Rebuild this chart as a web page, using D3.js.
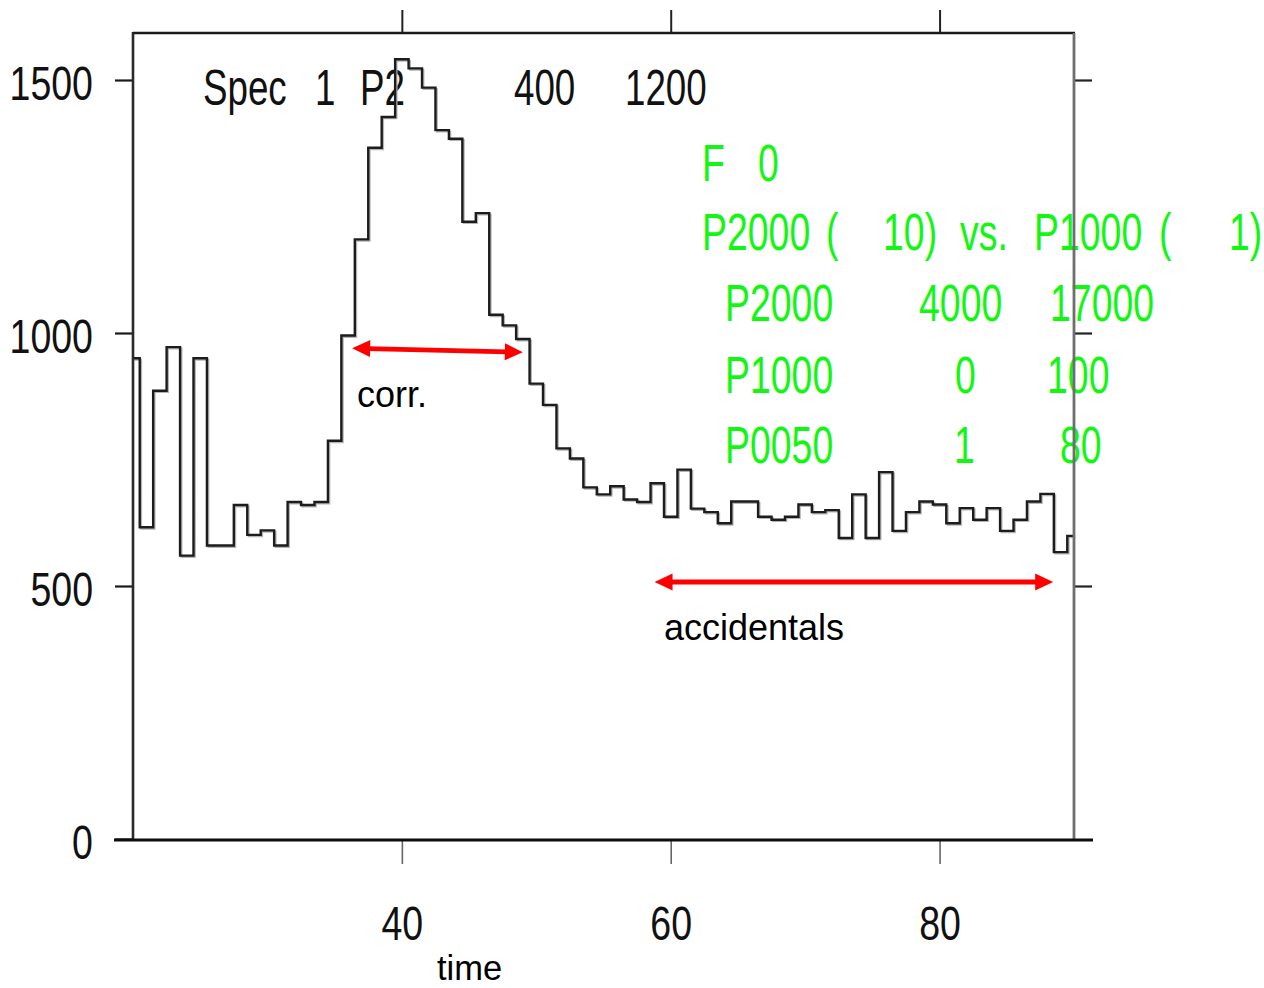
<!DOCTYPE html>
<html>
<head>
<meta charset="utf-8">
<script src="https://cdn.jsdelivr.net/npm/d3@7/dist/d3.min.js"></script>
<style>
  html, body { margin: 0; padding: 0; background: #fff; }
  svg { display: block; }
</style>
</head>
<body>
<svg id="chart" width="1264" height="988"></svg>
<script>
// ---- data -------------------------------------------------------------
// time-spectrum bin centres (one channel per unit of time)
const binCenters = [
  20, 21, 22, 23, 24, 25, 26, 27, 28, 29,
  30, 31, 32, 33, 34, 35, 36, 37, 38, 39,
  40, 41, 42, 43, 44, 45, 46, 47, 48, 49,
  50, 51, 52, 53, 54, 55, 56, 57, 58, 59,
  60, 61, 62, 63, 64, 65, 66, 67, 68, 69,
  70, 71, 72, 73, 74, 75, 76, 77, 78, 79,
  80, 81, 82, 83, 84, 85, 86, 87, 88, 89,
  90
];
// counts per bin
const counts = [
  950, 616, 886, 972, 560, 950, 580, 580, 660, 601,
  610, 580, 666, 660, 666, 787, 995, 1185, 1366, 1427,
  1541, 1523, 1485, 1401, 1384, 1220, 1237, 1036, 1015, 988,
  900, 858, 772, 752, 695, 681, 697, 671, 666, 703,
  637, 730, 653, 646, 624, 667, 667, 637, 631, 637,
  661, 646, 650, 595, 681, 595, 725, 609, 646, 667,
  661, 624, 654, 631, 654, 609, 631, 667, 682, 567,
  599
];
const xDomain = [20, 90];
const xTicks = [40, 60, 80];
const yTicks = [0, 500, 1000, 1500];
const xTitle = "time";

// header line of the spectrum display
const headerTokens = ["Spec", "1", "P2", "400", "1200"];
// gate / condition block
const gateRows = [
  ["F", "0"],
  ["P2000", "(", "10)", "vs.", "P1000", "(", "1)"],
  ["P2000", "4000", "17000"],
  ["P1000", "0", "100"],
  ["P0050", "1", "80"]
];

// annotated regions: [from, to] in time, and level in counts
const corrRange = [36.3, 49.0];
const corrLevel = [970, 962];
const corrLabel = "corr.";
const accRange = [58.8, 88.45];
const accLevel = [508, 508];
const accLabel = "accidentals";

// ---- layout -----------------------------------------------------------
const svg = d3.select("#chart");
const plotL = 133, plotR = 1074, plotT = 33, plotB = 839;
const FONT = "'Liberation Sans', Arial, Helvetica, sans-serif";

const x = d3.scaleLinear().domain(xDomain).range([plotL, plotR]);
const y = d3.scaleLinear().domain([0, 1500]).range([plotB, 80]);

function putText(g, str, px, py, size, sx, color, anchor) {
  return g.append("text")
    .attr("transform", `translate(${px},${py}) scale(${sx},1)`)
    .attr("font-family", FONT)
    .attr("font-size", size)
    .attr("fill", color)
    .attr("text-anchor", anchor || "start")
    .text(str);
}

// ---- text behind the frame -------------------------------------------
const txt = svg.append("g");

// header: "Spec 1 P2   400  1200"
const headerX = [203, 315, 360, 514, 625];
headerTokens.forEach((t, i) => putText(txt, t, headerX[i], 105, 49, 0.75, "#111"));

// green gate listing
const GREEN = "#12f712";
const gateX = [
  [702, 758],
  [702, 826, 883, 960, 1034, 1159, 1229],
  [725, 919, 1050],
  [725, 955, 1047],
  [725, 954, 1060]
];
const gateY = [181, 250, 321, 393, 463];
gateRows.forEach((row, r) => {
  row.forEach((t, i) => putText(txt, t, gateX[r][i], gateY[r], 52, 0.72, GREEN));
});

// ---- histogram (step line) -------------------------------------------
const pts = binCenters.map((c, i) => [Math.max(xDomain[0], c - 0.5), counts[i]]);
pts.push([xDomain[1], counts[counts.length - 1]]);

const step = d3.line()
  .x(d => x(d[0]))
  .y(d => y(d[1]))
  .curve(d3.curveStepAfter);

svg.append("path")
  .attr("d", step(pts))
  .attr("fill", "none")
  .attr("stroke", "#b4b4b4")
  .attr("stroke-width", 2)
  .attr("transform", "translate(1.4,1.4)");

svg.append("path")
  .attr("d", step(pts))
  .attr("fill", "none")
  .attr("stroke", "#1c1c1c")
  .attr("stroke-width", 2.4);

// ---- frame and axes ---------------------------------------------------
const frame = svg.append("g");

// ticks via d3 axes
const axL = frame.append("g").attr("transform", `translate(${plotL},0)`)
  .call(d3.axisLeft(y).tickValues(yTicks).tickFormat(d3.format("d"))
    .tickSize(18).tickSizeOuter(0).tickPadding(0));
const axR = frame.append("g").attr("transform", `translate(${plotR},0)`)
  .call(d3.axisRight(y).tickValues(yTicks.filter(v => v > 0)).tickSize(18).tickSizeOuter(0).tickFormat(""));
const axT = frame.append("g").attr("transform", `translate(0,${plotT})`)
  .call(d3.axisTop(x).tickValues(xTicks).tickSize(23).tickSizeOuter(0).tickFormat(""));
const axB = frame.append("g").attr("transform", `translate(0,${plotB})`)
  .call(d3.axisBottom(x).tickValues(xTicks).tickFormat(d3.format("d"))
    .tickSize(25).tickSizeOuter(0));

[axL, axR, axT, axB].forEach(a => a.select(".domain").remove());
axL.selectAll(".tick line").attr("stroke", "#1a1a1a").attr("stroke-width", 2.2);
axR.selectAll(".tick line").attr("stroke", "#222").attr("stroke-width", 2.2);
axT.selectAll(".tick line").attr("stroke", "#222").attr("stroke-width", 2);
axB.selectAll(".tick line").attr("stroke", "#666").attr("stroke-width", 1.6);

const tickSize = 47.5, tickSx = 0.79;
axL.selectAll(".tick text")
  .attr("font-family", FONT).attr("font-size", tickSize).attr("fill", "#111")
  .attr("text-anchor", "end")
  .attr("x", null).attr("dy", null)
  .attr("transform", `translate(-40,19) scale(${tickSx},1)`);
axB.selectAll(".tick text")
  .attr("font-family", FONT).attr("font-size", tickSize).attr("fill", "#111")
  .attr("text-anchor", "middle")
  .attr("y", null).attr("dy", null)
  .attr("transform", `translate(0,101) scale(${tickSx},1)`);

// frame lines
frame.append("line").attr("x1", plotL).attr("x2", plotL).attr("y1", plotT - 1).attr("y2", plotB)
  .attr("stroke", "#2a2a2a").attr("stroke-width", 2.6);
frame.append("line").attr("x1", plotL).attr("x2", plotR + 1).attr("y1", plotT).attr("y2", plotT)
  .attr("stroke", "#1a1a1a").attr("stroke-width", 2.6);
frame.append("line").attr("x1", plotR).attr("x2", plotR).attr("y1", plotT).attr("y2", plotB)
  .attr("stroke", "#6e6e6e").attr("stroke-width", 2.8);
frame.append("line").attr("x1", 114).attr("x2", 1093).attr("y1", plotB + 1).attr("y2", plotB + 1)
  .attr("stroke", "#0d0d0d").attr("stroke-width", 3);

// axis title
svg.append("text")
  .attr("x", 437).attr("y", 980)
  .attr("font-family", FONT).attr("font-size", 34.5).attr("fill", "#000")
  .text(xTitle);

// ---- annotations --------------------------------------------------------
function doubleArrow(range, level, width) {
  const x1 = x(range[0]), y1 = y(level[0]);
  const x2 = x(range[1]), y2 = y(level[1]);
  const ang = Math.atan2(y2 - y1, x2 - x1);
  const L = 18, H = 8.5;
  const g = svg.append("g");
  const ux = Math.cos(ang), uy = Math.sin(ang);
  g.append("line")
    .attr("x1", x1 + ux * (L - 2)).attr("y1", y1 + uy * (L - 2))
    .attr("x2", x2 - ux * (L - 2)).attr("y2", y2 - uy * (L - 2))
    .attr("stroke", "#ff0000").attr("stroke-width", width);
  const head = (tx, ty, dir) => {
    const bx = tx - dir * ux * L, by = ty - dir * uy * L;
    return [[tx, ty], [bx - uy * H, by + ux * H], [bx + uy * H, by - ux * H]];
  };
  [head(x1, y1, -1), head(x2, y2, 1)].forEach(p =>
    g.append("path").attr("d", "M" + p.join("L") + "Z").attr("fill", "#ff0000"));
}
doubleArrow(corrRange, corrLevel, 4.8);
doubleArrow(accRange, accLevel, 5);

svg.append("text")
  .attr("x", 357).attr("y", 407)
  .attr("font-family", FONT).attr("font-size", 36).attr("fill", "#000")
  .text(corrLabel);
svg.append("text")
  .attr("x", 664).attr("y", 640)
  .attr("font-family", FONT).attr("font-size", 36).attr("fill", "#000")
  .text(accLabel);
</script>
</body>
</html>
